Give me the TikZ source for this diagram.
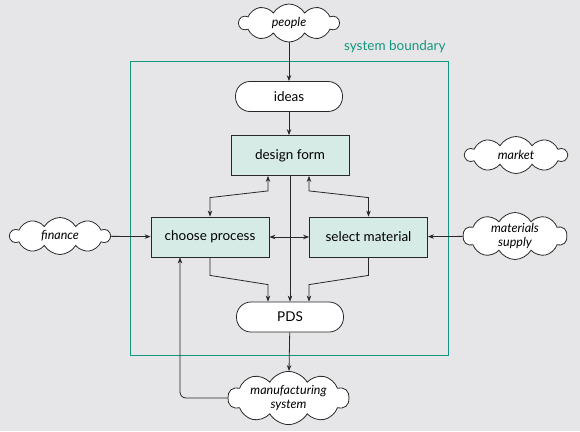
\documentclass[tikz,border=0pt]{standalone}
\usepackage{fontspec}
\setmainfont{Lato}
\usetikzlibrary{shapes.symbols,arrows.meta,calc}
\definecolor{bg}{RGB}{230,230,232}
\definecolor{boxfill}{RGB}{214,234,230}
\definecolor{teal}{RGB}{20,150,128}
\definecolor{ink}{RGB}{40,40,40}
\tikzset{
  arr/.style={ink,line width=0.8pt,-{Stealth[length=6pt,width=4.5pt]}},
  darr/.style={ink,line width=0.8pt,{Stealth[length=6pt,width=4.5pt]}-{Stealth[length=6pt,width=4.5pt]}},
  procbox/.style={draw=ink,line width=0.8pt,fill=boxfill,minimum width=118pt,minimum height=40pt,font=\fontsize{13.5}{15}\selectfont},
  pill/.style={draw=ink,line width=0.8pt,fill=white,rounded corners=14.5pt,minimum width=107pt,minimum height=30pt,font=\fontsize{13.5}{15}\selectfont},
  cloudn/.style={cloud,cloud puffs=10,cloud puff arc=120,cloud ignores aspect,draw=ink,line width=0.8pt,fill=white,inner sep=0pt,font=\itshape\fontsize{12.5}{14}\selectfont,align=center},
}
\begin{document}
\begin{tikzpicture}[x=1pt,y=-1pt]
\fill[bg] (0,0) rectangle (580,431);
\useasboundingbox (0,0) rectangle (580,431);
\draw[teal,line width=1pt] (130,61) rectangle (448,355);
\node[teal,anchor=east,font=\fontsize{13.5}{15}\selectfont] (sb) at (449,47) {system boundary};
\node[cloudn,minimum width=100pt,minimum height=38pt] (people) at (289,23) {people};
\node[pill] (ideas) at (289,96.5) {ideas};
\node[procbox] (df) at (290,155.5) {design form};
\node[procbox] (cp) at (210,237) {choose process};
\node[procbox] (sm) at (368.5,237) {select material};
\node[pill] (pds) at (290,317) {PDS};
\node[cloudn,minimum width=100pt,minimum height=37pt] (fin) at (60,236) {finance};
\node[cloudn,minimum width=102pt,minimum height=37pt] (mkt) at (516,155) {market};
\node[cloudn,minimum width=104pt,minimum height=47pt] (ms) at (515,236) {materials\\supply};
\node[cloudn,minimum width=121pt,minimum height=50pt] (mfg) at (288.5,398) {manufacturing\\system};
\draw[arr] (people) -- (ideas);
\draw[arr] (ideas) -- (df.north -| ideas);
\draw[arr] (df) -- (pds);
\draw[darr] ([xshift=-22pt]df.south) -- ++(0,15) -- ([yshift=19pt]cp.north) -- (cp.north);
\draw[darr] ([xshift=19pt]df.south) -- ++(0,15) -- ([yshift=19pt]sm.north) -- (sm.north);
\draw[darr] (cp) -- (sm);
\draw[arr] (cp.south) -- ++(0,18) -- ([xshift=-22pt,yshift=17pt]pds.north) -- ([xshift=-22pt]pds.north);
\draw[arr] (sm.south) -- ++(0,18) -- ([xshift=19pt,yshift=17pt]pds.north) -- ([xshift=19pt]pds.north);
\draw[arr] (fin) -- (cp);
\draw[arr] (ms) -- (sm);
\draw[arr] (pds) -- (mfg);
\draw[arr,rounded corners=6pt] (mfg.west) -| ([xshift=-30pt]cp.south);
\end{tikzpicture}
\end{document}
